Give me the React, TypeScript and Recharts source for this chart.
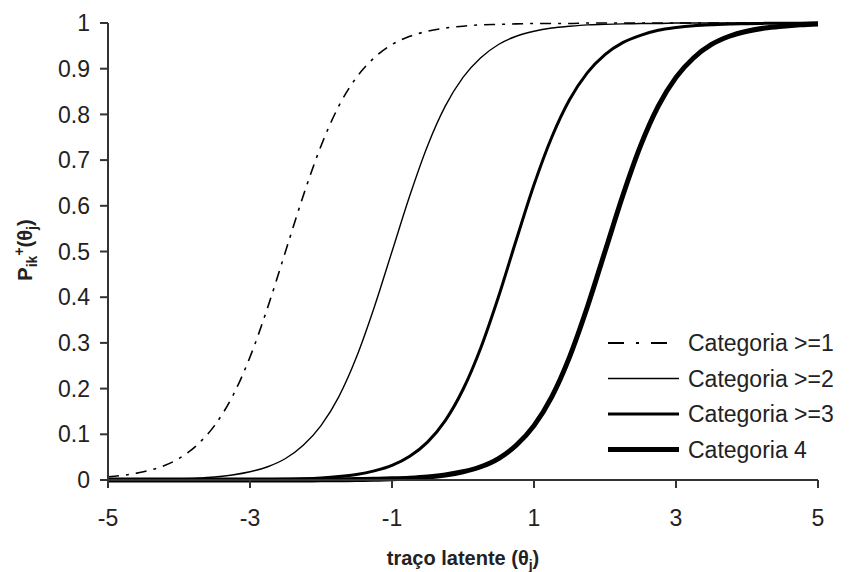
import React from 'react';
import { LineChart, Line, XAxis, YAxis } from 'recharts';

// theta grid (step 0.25) and the four cumulative category curves
const THETA = [
  -5, -4.75, -4.5, -4.25, -4, -3.75, -3.5, -3.25, -3, -2.75, -2.5, -2.25, -2, -1.75, -1.5, -1.25, -1, -0.75, -0.5, -0.25,
  0, 0.25, 0.5, 0.75, 1, 1.25, 1.5, 1.75, 2, 2.25, 2.5, 2.75, 3, 3.25, 3.5, 3.75, 4, 4.25, 4.5, 4.75, 5,
];

const CAT_1 = [
  0.007, 0.011, 0.018, 0.029, 0.047, 0.076, 0.119, 0.182, 0.269, 0.378, 0.5, 0.622, 0.731, 0.818, 0.881, 0.924, 0.953, 0.971, 0.982, 0.989,
  0.993, 0.996, 0.997, 0.998, 0.999, 0.999, 0.999, 1, 1, 1, 1, 1, 1, 1, 1, 1, 1, 1, 1, 1, 1,
];

const CAT_2 = [
  0.0003, 0.0006, 0.0009, 0.0015, 0.0025, 0.0041, 0.0067, 0.011, 0.018, 0.029, 0.047, 0.076, 0.119, 0.182, 0.269, 0.378, 0.5, 0.622, 0.731, 0.818,
  0.881, 0.924, 0.953, 0.971, 0.982, 0.989, 0.993, 0.996, 0.997, 0.998, 0.999, 0.999, 1, 1, 1, 1, 1, 1, 1, 1, 1,
];

const CAT_3 = [
  0.00001, 0.00002, 0.00003, 0.00005, 0.00008, 0.00014, 0.0002, 0.0004, 0.0006, 0.001, 0.0017, 0.0027, 0.0045, 0.0074, 0.012, 0.02, 0.032, 0.052, 0.083, 0.13,
  0.198, 0.289, 0.401, 0.525, 0.646, 0.75, 0.832, 0.891, 0.931, 0.957, 0.973, 0.984, 0.99, 0.994, 0.996, 0.998, 0.9986, 0.9992, 0.9995, 0.9997, 0.9998,
];

const CAT_4 = [
  0, 0, 0, 0, 0.00001, 0.00001, 0.00002, 0.00003, 0.00005, 0.00008, 0.0001, 0.0002, 0.0003, 0.0006, 0.0009, 0.0015, 0.0025, 0.0041, 0.0067, 0.011,
  0.018, 0.029, 0.047, 0.076, 0.119, 0.182, 0.269, 0.378, 0.5, 0.622, 0.731, 0.818, 0.881, 0.924, 0.953, 0.971, 0.982, 0.989, 0.993, 0.996, 0.998,
];

const SERIES_NAMES = ['Categoria >=1', 'Categoria >=2', 'Categoria >=3', 'Categoria 4'];
const X_TICKS = [-5, -3, -1, 1, 3, 5];
const Y_TICKS = [0, 0.1, 0.2, 0.3, 0.4, 0.5, 0.6, 0.7, 0.8, 0.9, 1];

const data = THETA.map((t, i) => ({ t, c1: CAT_1[i], c2: CAT_2[i], c3: CAT_3[i], c4: CAT_4[i] }));

const styles = [
  { key: 'c1', width: 1.6, dash: '11 7 3 7' },
  { key: 'c2', width: 1.4, dash: undefined },
  { key: 'c3', width: 3, dash: undefined },
  { key: 'c4', width: 5, dash: undefined },
];

const FONT = 'Arial, "Liberation Sans", sans-serif';
const tick = { fontSize: 23, fill: '#222', fontFamily: FONT };

export default function App() {
  return (
    <div style={{ position: 'absolute', left: 0, top: 0, width: 849, height: 572, background: '#fff' }}>
      <LineChart width={849} height={572} data={data} margin={{ top: 23, right: 31, bottom: 0, left: 0 }}>
        <XAxis
          dataKey="t"
          type="number"
          domain={[-5, 5]}
          ticks={X_TICKS}
          tick={tick}
          tickSize={8}
          tickMargin={22}
          height={92}
          stroke="#333"
          strokeWidth={2}
        />
        <YAxis
          type="number"
          domain={[0, 1]}
          ticks={Y_TICKS}
          tick={tick}
          tickSize={8}
          tickMargin={10}
          width={108}
          stroke="#333"
          strokeWidth={2}
        />
        {styles.map((s, i) => (
          <Line
            key={s.key}
            dataKey={s.key}
            name={SERIES_NAMES[i]}
            type="monotone"
            stroke="#000"
            strokeWidth={s.width}
            strokeDasharray={s.dash}
            dot={false}
            isAnimationActive={false}
          />
        ))}
      </LineChart>
      <svg width={849} height={572} style={{ position: 'absolute', left: 0, top: 0, pointerEvents: 'none' }}>
        {/* legend */}
        {SERIES_NAMES.map((name, i) => {
          const y = 343 + i * 35.5;
          return (
            <g key={name}>
              <line x1={608} x2={679} y1={y} y2={y} stroke="#000" strokeWidth={i === 0 ? 1.8 : styles[i].width} strokeDasharray={i === 0 ? '16 12 3 12' : undefined} />
              <text x={688} y={y + 8} fontSize={23} fill="#222" fontFamily={FONT}>{name}</text>
            </g>
          );
        })}
        {/* axis titles */}
        <text x={463} y={565} textAnchor="middle" fontSize={20} fontWeight="bold" fill="#222" fontFamily={FONT}>
          traço latente (θ<tspan fontSize={14} dy={5}>j</tspan><tspan dy={-5}>)</tspan>
        </text>
        <text transform="translate(32,250) rotate(-90)" textAnchor="middle" fontSize={20} fontWeight="bold" fill="#222" fontFamily={FONT}>
          P<tspan fontSize={14} dy={5}>ik</tspan><tspan fontSize={14} dy={-13}>+</tspan><tspan dy={8}>(θ</tspan><tspan fontSize={14} dy={5}>j</tspan><tspan dy={-5}>)</tspan>
        </text>
      </svg>
    </div>
  );
}
